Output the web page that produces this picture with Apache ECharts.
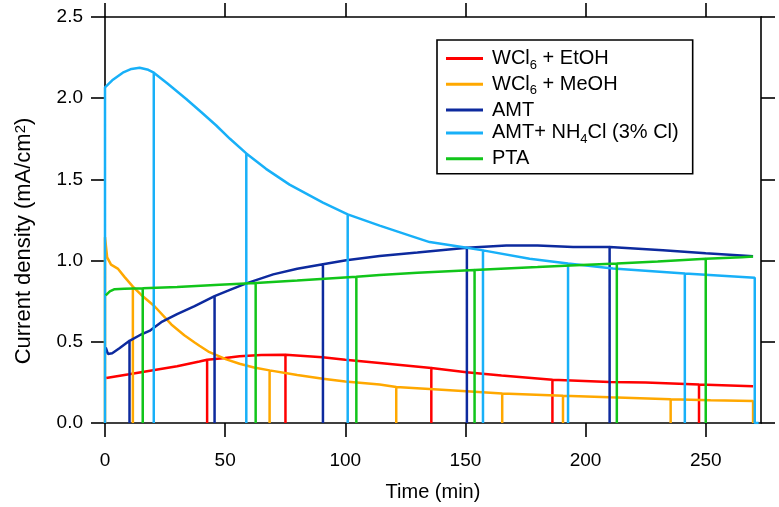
<!DOCTYPE html>
<html>
<head>
<meta charset="utf-8">
<script src="https://cdn.jsdelivr.net/npm/echarts@6/dist/echarts.min.js"></script>
<style>
html, body { margin: 0; padding: 0; background: #fff; }
#main { width: 779px; height: 507px; }
</style>
</head>
<body>
<div id="main"></div>
<script>
// 曲线数据 (时间 min, 电流密度 mA/cm2)
var etohT = [0.5, 10, 20, 30, 39.3, 50, 56, 65, 75.1, 90.5, 100, 114.3, 135.8, 150.4, 165, 186.2, 210, 225, 247.2, 269.7];
var etohV = [0.277, 0.30, 0.325, 0.35, 0.379, 0.40, 0.411, 0.418, 0.421, 0.405, 0.39, 0.37, 0.338, 0.313, 0.293, 0.267, 0.253, 0.249, 0.237, 0.227];
var etohDropT = [42.5, 75.1, 135.8, 186.2, 247.2];
var etohDropV = [0.39, 0.421, 0.338, 0.267, 0.237];

var meohT = [0, 0, 0.9, 2.5, 5.3, 8.1, 11.6, 15, 20.6, 27.6, 33, 37.3, 39.3, 43, 50.5, 56, 62, 68.5, 80, 90.7, 100, 114.3, 121.2, 135, 150.4, 165.3, 190.6, 210, 235.4, 252, 269.7, 269.7];
var meohV = [0, 1.144, 1.02, 0.975, 0.951, 0.90, 0.84, 0.79, 0.719, 0.607, 0.54, 0.496, 0.476, 0.44, 0.392, 0.365, 0.342, 0.324, 0.295, 0.273, 0.255, 0.237, 0.222, 0.21, 0.196, 0.182, 0.168, 0.158, 0.146, 0.14, 0.135, 0];
var meohDropT = [11.6, 68.5, 121.2, 165.3, 190.6, 235.4];
var meohDropV = [0.84, 0.324, 0.222, 0.182, 0.168, 0.146];

var amtT = [0.3, 1.2, 3, 6, 10.2, 15, 18.5, 23.4, 30, 37.3, 45.6, 52, 58.8, 70, 80, 90.7, 100.4, 114.3, 130, 150.6, 167, 180, 194.8, 210, 232.2, 250, 269.7];
var amtV = [0.465, 0.425, 0.43, 0.46, 0.506, 0.545, 0.567, 0.621, 0.67, 0.719, 0.781, 0.82, 0.86, 0.915, 0.95, 0.978, 1.002, 1.029, 1.05, 1.079, 1.093, 1.093, 1.083, 1.083, 1.063, 1.045, 1.027];
var amtDropT = [10.2, 45.6, 90.7, 150.6, 210];
var amtDropV = [0.506, 0.781, 0.978, 1.079, 1.083];

var amtClT = [0, 0, 3, 7.4, 11, 14.4, 18, 20.3, 26, 33.8, 40, 46.3, 52, 58.8, 67, 76.8, 90.7, 101, 114.3, 128.1, 135.1, 150.6, 157.3, 176.7, 192.7, 211.4, 241.3, 270.4, 270.4, 272];
var amtClV = [0, 2.066, 2.11, 2.157, 2.18, 2.187, 2.175, 2.157, 2.09, 1.995, 1.915, 1.832, 1.75, 1.66, 1.565, 1.468, 1.357, 1.285, 1.215, 1.148, 1.114, 1.079, 1.063, 1.012, 0.982, 0.951, 0.921, 0.895, 0, 0];
var amtClDropT = [20.3, 58.8, 101, 157.3, 192.7, 241.3];
var amtClDropV = [2.157, 1.66, 1.285, 1.063, 0.982, 0.921];

var ptaT = [0.3, 2, 4, 8, 15.7, 30, 47.7, 62.7, 80, 104.6, 114.3, 130, 153.8, 180, 196, 213, 230, 250, 265, 269.7];
var ptaV = [0.786, 0.81, 0.824, 0.827, 0.83, 0.838, 0.851, 0.862, 0.878, 0.901, 0.911, 0.925, 0.942, 0.96, 0.972, 0.982, 0.995, 1.012, 1.02, 1.025];
var ptaDropT = [15.7, 62.7, 104.6, 153.8, 213, 250];
var ptaDropV = [0.83, 0.862, 0.901, 0.942, 0.982, 1.012];

var xTicks = [0, 50, 100, 150, 200, 250];

var names = ['WCl6 + EtOH', 'WCl6 + MeOH', 'AMT', 'AMT+ NH4Cl (3% Cl)', 'PTA'];
var colors = ['#ff0000', '#ffa800', '#0d2a9e', '#18b0f8', '#11c51a'];

// 把中断点(降到0)插入曲线
function buildLine(ct, cv, dt, dv) {
    var pts = [];
    ct.forEach(function (t, i) { pts.push({ t: t, v: cv[i], drop: false }); });
    dt.forEach(function (t, i) { pts.push({ t: t, v: dv[i], drop: true }); });
    pts.sort(function (a, b) { return a.t - b.t; });
    var out = [];
    pts.forEach(function (p) {
        if (p.drop) {
            out.push([p.t, p.v], [p.t, 0], [p.t, p.v]);
        } else {
            out.push([p.t, p.v]);
        }
    });
    return out;
}

var lines = [
    buildLine(etohT, etohV, etohDropT, etohDropV),
    buildLine(meohT, meohV, meohDropT, meohDropV),
    buildLine(amtT, amtV, amtDropT, amtDropV),
    buildLine(amtClT, amtClV, amtClDropT, amtClDropV),
    buildLine(ptaT, ptaV, ptaDropT, ptaDropV)
];

var FONT = '"Liberation Sans", Arial, sans-serif';
var axisLine = { show: true, onZero: false, lineStyle: { color: '#000', width: 1.6 } };
var axisTick = { show: true, inside: false, length: 14, lineStyle: { color: '#000', width: 1.6 } };

var myChart = echarts.init(document.getElementById('main'));

var option = {
    animation: false,
    backgroundColor: '#fff',
    textStyle: { fontFamily: FONT },
    grid: { left: 105, right: 18, top: 17, bottom: 79 },
    legend: {
        left: 437,
        top: 40,
        orient: 'vertical',
        data: names,
        icon: 'rect',
        itemWidth: 37,
        itemHeight: 3,
        itemGap: 2.8,
        padding: [8.5, 14, 5, 9],
        borderColor: '#000',
        borderWidth: 1.6,
        backgroundColor: '#fff',
        formatter: function (name) {
            if (name === 'WCl6 + EtOH') return '{a|WCl}{s|6}{a| + EtOH}';
            if (name === 'WCl6 + MeOH') return '{a|WCl}{s|6}{a| + MeOH}';
            if (name === 'AMT+ NH4Cl (3% Cl)') return '{a|AMT+ NH}{s|4}{a|Cl (3% Cl)}';
            return '{a|' + name + '}';
        },
        textStyle: {
            padding: [0, 0, 0, 4],
            rich: {
                a: { fontSize: 20, fontFamily: FONT, color: '#000', lineHeight: 26, verticalAlign: 'middle' },
                s: { fontSize: 13, fontFamily: FONT, color: '#000', lineHeight: 26, verticalAlign: 'bottom' }
            }
        }
    },
    xAxis: [
        {
            type: 'value', min: 0, max: 273, interval: 50,
            name: 'Time (min)', nameLocation: 'middle', nameGap: 59,
            nameTextStyle: { fontSize: 20, color: '#000', fontFamily: FONT },
            axisLine: axisLine,
            axisTick: Object.assign({ customValues: xTicks }, axisTick),
            axisLabel: { customValues: xTicks, fontSize: 19, color: '#000', margin: 28, fontFamily: FONT },
            splitLine: { show: false }
        },
        {
            type: 'value', min: 0, max: 273, position: 'top',
            axisLine: axisLine,
            axisTick: Object.assign({ customValues: xTicks }, axisTick),
            axisLabel: { show: false },
            splitLine: { show: false }
        }
    ],
    yAxis: [
        {
            type: 'value', min: 0, max: 2.5, interval: 0.5,
            name: 'Current density (mA/cm{p|2})', nameLocation: 'middle', nameGap: 70, nameRotate: 90,
            nameTextStyle: {
                fontSize: 22, color: '#000', fontFamily: FONT,
                padding: [0, 42, 0, 0],
                rich: { p: { fontSize: 15, verticalAlign: 'top', fontFamily: FONT, color: '#000' } }
            },
            axisLine: axisLine,
            axisTick: axisTick,
            axisLabel: {
                fontSize: 19, color: '#000', margin: 22, fontFamily: FONT,
                formatter: function (v) { return v.toFixed(1); }
            },
            splitLine: { show: false }
        },
        {
            type: 'value', min: 0, max: 2.5, interval: 0.5, position: 'right',
            axisLine: axisLine,
            axisTick: axisTick,
            axisLabel: { show: false },
            splitLine: { show: false }
        }
    ],
    series: names.map(function (n, i) {
        return {
            name: n,
            type: 'line',
            data: lines[i],
            showSymbol: false,
            symbol: 'none',
            color: colors[i],
            lineStyle: { width: 2.5, color: colors[i] },
            z: 2 + i
        };
    })
};

myChart.setOption(option);
</script>
</body>
</html>
